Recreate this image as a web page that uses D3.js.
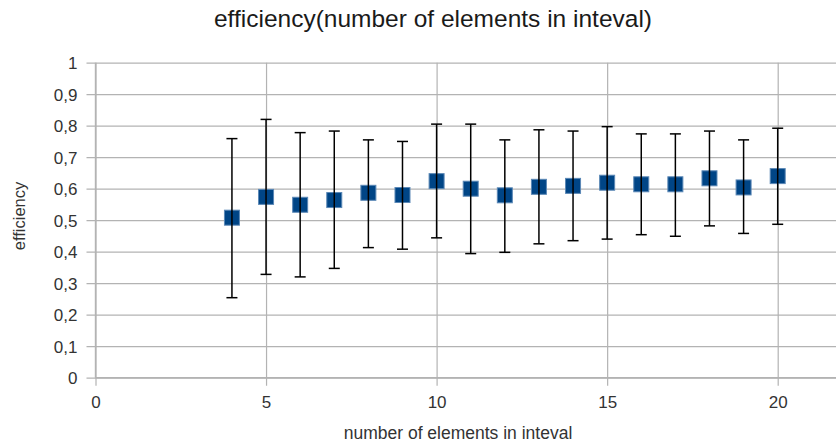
<!DOCTYPE html>
<html>
<head>
<meta charset="utf-8">
<script src="https://cdn.jsdelivr.net/npm/d3@7"></script>
<style>
  html, body { margin: 0; padding: 0; background: #fff; }
  svg { display: block; font-family: "Liberation Sans", Arial, sans-serif; }
</style>
</head>
<body>
<svg id="chart" width="836" height="441"></svg>
<script>
// Number of elements in the interval
const elements = [4, 5, 6, 7, 8, 9, 10, 11, 12, 13, 14, 15, 16, 17, 18, 19, 20];
// Mean efficiency for each interval size
const efficiency = [0.508, 0.574, 0.549, 0.564, 0.587, 0.580, 0.624, 0.600, 0.579,
                    0.606, 0.609, 0.619, 0.614, 0.614, 0.633, 0.604, 0.640];
// Upper and lower ends of the error bars
const upperBound = [0.759, 0.820, 0.778, 0.783, 0.755, 0.750, 0.805, 0.805, 0.755,
                    0.787, 0.783, 0.797, 0.774, 0.774, 0.783, 0.755, 0.792];
const lowerBound = [0.254, 0.328, 0.320, 0.347, 0.413, 0.408, 0.444, 0.394, 0.398,
                    0.425, 0.435, 0.440, 0.454, 0.449, 0.482, 0.458, 0.487];
// Axis ticks
const xTicks = [0, 5, 10, 15, 20];
const yTicks = [0, 0.1, 0.2, 0.3, 0.4, 0.5, 0.6, 0.7, 0.8, 0.9, 1];

const data = elements.map((n, i) => ({
  n, v: efficiency[i], hi: upperBound[i], lo: lowerBound[i]
}));

const svg = d3.select("#chart");
const W = 836;
const plotLeft = 95.5, plotTop = 62.7, plotBottom = 377.7;
const unit = (777.7 - plotLeft) / 20;

const x = d3.scaleLinear().domain([0, 22]).range([plotLeft, plotLeft + 22 * unit]);
const y = d3.scaleLinear().domain([0, 1]).range([plotBottom, plotTop]);

const gridColor = "#b3b3b3";
const textColor = "#333333";
const fmt = v => String(+v.toFixed(1)).replace(".", ",");

// Horizontal grid lines with their tick stubs
const yAxis = d3.axisLeft(y)
  .tickValues(yTicks)
  .tickSize(-(x.range()[1] - plotLeft))
  .tickSizeOuter(0)
  .tickFormat(fmt)
  .tickPadding(0);
const gy = svg.append("g").attr("transform", `translate(${plotLeft},0)`).call(yAxis);
gy.select(".domain").remove();
gy.selectAll(".tick line")
  .attr("x1", -9)
  .attr("stroke", gridColor)
  .attr("stroke-width", 1.2);
gy.selectAll(".tick text")
  .attr("x", -18)
  .attr("dy", "0.36em")
  .attr("fill", textColor)
  .style("font-size", "17px");

// Vertical grid lines with their tick stubs
const xAxis = d3.axisBottom(x)
  .tickValues(xTicks)
  .tickSize(-(plotBottom - plotTop))
  .tickSizeOuter(0)
  .tickFormat(d3.format("d"));
const gx = svg.append("g").attr("transform", `translate(0,${plotBottom})`).call(xAxis);
gx.select(".domain").remove();
gx.selectAll(".tick line")
  .attr("y1", 8)
  .attr("stroke", gridColor)
  .attr("stroke-width", 1.2);
gx.selectAll(".tick text")
  .attr("y", 30.5)
  .attr("dy", 0)
  .attr("fill", textColor)
  .style("font-size", "17px");

// Axis lines
svg.append("line")
  .attr("x1", plotLeft).attr("x2", plotLeft)
  .attr("y1", plotTop).attr("y2", plotBottom)
  .attr("stroke", gridColor).attr("stroke-width", 1.4);
svg.append("line")
  .attr("x1", plotLeft).attr("x2", W)
  .attr("y1", plotBottom).attr("y2", plotBottom)
  .attr("stroke", gridColor).attr("stroke-width", 1.4);

// Square markers
const ms = 15;
svg.append("g").selectAll("rect")
  .data(data)
  .join("rect")
  .attr("x", d => x(d.n) - ms / 2)
  .attr("y", d => y(d.v) - ms / 2)
  .attr("width", ms)
  .attr("height", ms)
  .attr("fill", "#004586")
  .attr("stroke", "#5b88b6")
  .attr("stroke-width", 1);

// Error bars
const cap = 5.5;
const eb = svg.append("g").attr("stroke", "#000").attr("stroke-width", 1.5);
eb.selectAll("line.stem")
  .data(data)
  .join("line")
  .attr("class", "stem")
  .attr("x1", d => x(d.n)).attr("x2", d => x(d.n))
  .attr("y1", d => y(d.hi)).attr("y2", d => y(d.lo));
eb.selectAll("line.capHi")
  .data(data)
  .join("line")
  .attr("class", "capHi")
  .attr("x1", d => x(d.n) - cap).attr("x2", d => x(d.n) + cap)
  .attr("y1", d => y(d.hi)).attr("y2", d => y(d.hi));
eb.selectAll("line.capLo")
  .data(data)
  .join("line")
  .attr("class", "capLo")
  .attr("x1", d => x(d.n) - cap).attr("x2", d => x(d.n) + cap)
  .attr("y1", d => y(d.lo)).attr("y2", d => y(d.lo));

// Titles
svg.append("text")
  .attr("x", 433).attr("y", 27)
  .attr("text-anchor", "middle")
  .attr("fill", "#1a1a1a")
  .style("font-size", "24.5px")
  .text("efficiency(number of elements in inteval)");

svg.append("text")
  .attr("x", 458).attr("y", 438.5)
  .attr("text-anchor", "middle")
  .attr("fill", textColor)
  .style("font-size", "17.5px")
  .text("number of elements in inteval");

svg.append("text")
  .attr("transform", "translate(25,216) rotate(-90)")
  .attr("text-anchor", "middle")
  .attr("fill", textColor)
  .style("font-size", "16.5px")
  .text("efficiency");
</script>
</body>
</html>
